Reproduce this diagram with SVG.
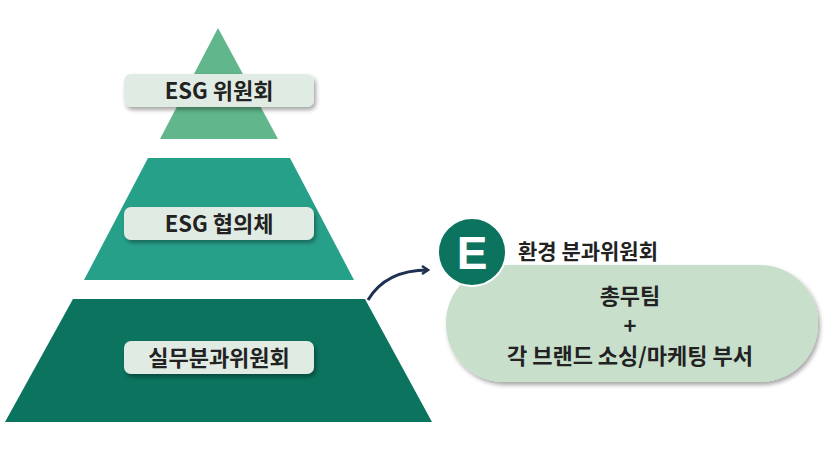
<svg xmlns="http://www.w3.org/2000/svg" width="840" height="465" viewBox="0 0 840 465">
<defs>
<filter id="sh" x="-10%" y="-20%" width="130%" height="160%"><feDropShadow dx="2" dy="3" stdDeviation="2" flood-color="#000" flood-opacity="0.35"/></filter>
<marker id="ah" markerWidth="10" markerHeight="10" refX="7" refY="5" orient="auto" markerUnits="userSpaceOnUse"><path d="M1,1 L7,5 L1,9" fill="none" stroke="#1f3050" stroke-width="2.5"/></marker>
</defs>
<style>
.lbl{fill:#e0ebe3;filter:url(#sh)}
.t{font-family:"Noto Sans CJK KR","Noto Sans",sans-serif;font-weight:bold;fill:#222;text-anchor:middle}
</style>
<rect width="840" height="465" fill="#fff"/>
<g id="top"><polygon points="218,28 160,139 278,139" fill="#62b68b"/><rect class="lbl" x="124" y="74" width="190" height="33" rx="7"/><text class="t" x="219" y="99" font-size="22">ESG 위원회</text></g>
<g id="mid"><polygon points="148,158 290,158 354,280 84,280" fill="#27a08a"/><rect class="lbl" x="124" y="207" width="190" height="33" rx="7"/><text class="t" x="219" y="232" font-size="22">ESG 협의체</text></g>
<g id="bot"><polygon points="73,299 365,299 432,422 5,422" fill="#0b735e"/><rect class="lbl" x="124" y="341" width="190" height="33" rx="7"/><text class="t" x="219" y="366" font-size="22">실무분과위원회</text></g>
<g id="connectors"><path d="M368,300 C380,280 400,270 428,270" fill="none" stroke="#1f3050" stroke-width="3" marker-end="url(#ah)"/></g>
<g id="env">
<rect x="446" y="265" width="372" height="117" rx="58" fill="#c8dfcc" filter="url(#sh)"/>
<circle cx="472" cy="252" r="34" fill="#0b735e" stroke="#fff" stroke-width="2"/>
<text x="472" y="269" font-family="Liberation Sans,sans-serif" font-weight="bold" font-size="46" fill="#fff" text-anchor="middle">E</text>
<text class="t" x="518" y="259" font-size="21" style="text-anchor:start">환경 분과위원회</text>
<text class="t" x="630" y="304" font-size="22">총무팀</text>
<text class="t" x="630" y="334" font-size="22">+</text>
<text class="t" x="630" y="364" font-size="22">각 브랜드 소싱/마케팅 부서</text>
</g>
</svg>
